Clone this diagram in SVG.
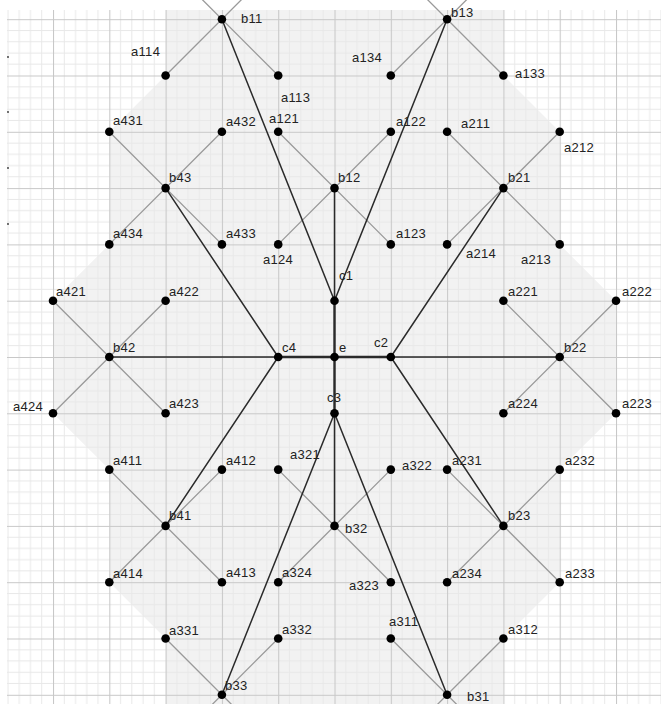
<svg xmlns="http://www.w3.org/2000/svg" width="661" height="704" viewBox="0 0 661 704">
<style>
.g{stroke:#9a9a9a;stroke-width:1.3;fill:none}
.k{stroke:#2a2a2a;stroke-width:1.5;fill:none}
.kk{stroke:#2a2a2a;stroke-width:2.4;fill:none}
.n circle{fill:#000}
text{font-family:"Liberation Sans",Arial,sans-serif;font-size:13px;fill:#222;letter-spacing:0.3px}
</style>
<defs>
<pattern id="grid" patternUnits="userSpaceOnUse" x="53" y="19.2" width="56.3" height="56.3">
<path d="M11.26 0V56.3M22.52 0V56.3M33.78 0V56.3M45.04 0V56.3M0 11.26H56.3M0 22.52H56.3M0 33.78H56.3M0 45.04H56.3" stroke="#e8e8e8" stroke-width="1"/>
<path d="M0.5 0V56.3M0 0.5H56.3" stroke="#c8c8c8" stroke-width="1.1"/>
</pattern>
</defs>
<rect width="661" height="704" fill="#fff"/>
<polygon points="165.6,10 165.6,75.5 109.3,131.8 109.3,244.4 53,300.7 53,413.3 109.3,469.6 109.3,582.2 165.6,638.5 165.6,704 503.4,704 503.4,638.5 559.7,582.2 559.7,469.6 616,413.3 616,300.7 559.7,244.4 559.7,131.8 503.4,75.5 503.4,10" fill="#f2f2f2"/>
<rect x="7" y="10" width="654" height="694" fill="url(#grid)"/>
<g fill="#333"><circle cx="8" cy="57" r="0.9"/><circle cx="8" cy="112" r="0.9"/><circle cx="8" cy="168" r="0.9"/><circle cx="8" cy="224" r="0.9"/></g>
<g id="connectors">
<g class="g">
<path d="M165.6,-37.1L278.2,75.5M278.2,-37.1L165.6,75.5"/>
<path d="M390.8,-37.1L503.4,75.5M503.4,-37.1L390.8,75.5"/>
<path d="M278.2,131.8L390.8,244.4M390.8,131.8L278.2,244.4"/>
<path d="M109.3,131.8L221.9,244.4M221.9,131.8L109.3,244.4"/>
<path d="M447.1,131.8L559.7,244.4M559.7,131.8L447.1,244.4"/>
<path d="M53,300.7L165.6,413.3M165.6,300.7L53,413.3"/>
<path d="M503.4,300.7L616,413.3M616,300.7L503.4,413.3"/>
<path d="M109.3,469.6L221.9,582.2M221.9,469.6L109.3,582.2"/>
<path d="M278.2,469.6L390.8,582.2M390.8,469.6L278.2,582.2"/>
<path d="M447.1,469.6L559.7,582.2M559.7,469.6L447.1,582.2"/>
<path d="M165.6,638.5L278.2,751.1M278.2,638.5L165.6,751.1"/>
<path d="M390.8,638.5L503.4,751.1M503.4,638.5L390.8,751.1"/>
</g>
<g class="k">
<path d="M334.5,300.7L221.9,19.2M334.5,300.7L447.1,19.2M334.5,300.7L334.5,188.1"/>
<path d="M390.8,357L503.4,188.1M390.8,357L559.7,357M390.8,357L503.4,525.9"/>
<path d="M334.5,413.3L334.5,525.9M334.5,413.3L221.9,694.8M334.5,413.3L447.1,694.8"/>
<path d="M278.2,357L165.6,188.1M278.2,357L109.3,357M278.2,357L165.6,525.9"/>
</g>
<path class="kk" d="M334.5,300.7V413.3M278.2,357H390.8"/>
</g>
<g id="nodes">
<g id="e" class="n"><circle cx="334.5" cy="357" r="4.3"/><text x="339" y="352">e</text></g>
<g id="c1" class="n"><circle cx="334.5" cy="300.7" r="4.3"/><text x="339" y="280">c1</text></g>
<g id="c2" class="n"><circle cx="390.8" cy="357" r="4.3"/><text x="374" y="347">c2</text></g>
<g id="c3" class="n"><circle cx="334.5" cy="413.3" r="4.3"/><text x="327" y="402">c3</text></g>
<g id="c4" class="n"><circle cx="278.2" cy="357" r="4.3"/><text x="282" y="352">c4</text></g>
<g id="b11" class="n"><circle cx="221.9" cy="19.2" r="4.3"/><text x="241" y="23">b11</text></g>
<g id="b12" class="n"><circle cx="334.5" cy="188.1" r="4.3"/><text x="338" y="182">b12</text></g>
<g id="b13" class="n"><circle cx="447.1" cy="19.2" r="4.3"/><text x="451" y="17">b13</text></g>
<g id="b21" class="n"><circle cx="503.4" cy="188.1" r="4.3"/><text x="508" y="182">b21</text></g>
<g id="b22" class="n"><circle cx="559.7" cy="357" r="4.3"/><text x="564" y="352">b22</text></g>
<g id="b23" class="n"><circle cx="503.4" cy="525.9" r="4.3"/><text x="508" y="520">b23</text></g>
<g id="b31" class="n"><circle cx="447.1" cy="694.8" r="4.3"/><text x="467" y="701">b31</text></g>
<g id="b32" class="n"><circle cx="334.5" cy="525.9" r="4.3"/><text x="345" y="533">b32</text></g>
<g id="b33" class="n"><circle cx="221.9" cy="694.8" r="4.3"/><text x="225" y="690">b33</text></g>
<g id="b41" class="n"><circle cx="165.6" cy="525.9" r="4.3"/><text x="169" y="520">b41</text></g>
<g id="b42" class="n"><circle cx="109.3" cy="357" r="4.3"/><text x="113" y="352">b42</text></g>
<g id="b43" class="n"><circle cx="165.6" cy="188.1" r="4.3"/><text x="169" y="182">b43</text></g>
<g id="a114" class="n"><circle cx="165.6" cy="75.5" r="4.3"/><text x="131" y="56">a114</text></g>
<g id="a113" class="n"><circle cx="278.2" cy="75.5" r="4.3"/><text x="281" y="102">a113</text></g>
<g id="a134" class="n"><circle cx="390.8" cy="75.5" r="4.3"/><text x="352" y="62">a134</text></g>
<g id="a133" class="n"><circle cx="503.4" cy="75.5" r="4.3"/><text x="515" y="78">a133</text></g>
<g id="a431" class="n"><circle cx="109.3" cy="131.8" r="4.3"/><text x="113" y="125">a431</text></g>
<g id="a432" class="n"><circle cx="221.9" cy="131.8" r="4.3"/><text x="226" y="126">a432</text></g>
<g id="a121" class="n"><circle cx="278.2" cy="131.8" r="4.3"/><text x="269" y="123">a121</text></g>
<g id="a122" class="n"><circle cx="390.8" cy="131.8" r="4.3"/><text x="396" y="126">a122</text></g>
<g id="a211" class="n"><circle cx="447.1" cy="131.8" r="4.3"/><text x="461" y="128">a211</text></g>
<g id="a212" class="n"><circle cx="559.7" cy="131.8" r="4.3"/><text x="564" y="152">a212</text></g>
<g id="a434" class="n"><circle cx="109.3" cy="244.4" r="4.3"/><text x="113" y="238">a434</text></g>
<g id="a433" class="n"><circle cx="221.9" cy="244.4" r="4.3"/><text x="226" y="238">a433</text></g>
<g id="a124" class="n"><circle cx="278.2" cy="244.4" r="4.3"/><text x="263" y="264">a124</text></g>
<g id="a123" class="n"><circle cx="390.8" cy="244.4" r="4.3"/><text x="396" y="238">a123</text></g>
<g id="a214" class="n"><circle cx="447.1" cy="244.4" r="4.3"/><text x="466" y="258">a214</text></g>
<g id="a213" class="n"><circle cx="559.7" cy="244.4" r="4.3"/><text x="521" y="264">a213</text></g>
<g id="a421" class="n"><circle cx="53" cy="300.7" r="4.3"/><text x="56" y="296">a421</text></g>
<g id="a422" class="n"><circle cx="165.6" cy="300.7" r="4.3"/><text x="169" y="296">a422</text></g>
<g id="a221" class="n"><circle cx="503.4" cy="300.7" r="4.3"/><text x="508" y="296">a221</text></g>
<g id="a222" class="n"><circle cx="616" cy="300.7" r="4.3"/><text x="622" y="296">a222</text></g>
<g id="a424" class="n"><circle cx="53" cy="413.3" r="4.3"/><text x="13" y="411">a424</text></g>
<g id="a423" class="n"><circle cx="165.6" cy="413.3" r="4.3"/><text x="169" y="408">a423</text></g>
<g id="a224" class="n"><circle cx="503.4" cy="413.3" r="4.3"/><text x="508" y="408">a224</text></g>
<g id="a223" class="n"><circle cx="616" cy="413.3" r="4.3"/><text x="622" y="408">a223</text></g>
<g id="a411" class="n"><circle cx="109.3" cy="469.6" r="4.3"/><text x="113" y="465">a411</text></g>
<g id="a412" class="n"><circle cx="221.9" cy="469.6" r="4.3"/><text x="226" y="465">a412</text></g>
<g id="a321" class="n"><circle cx="278.2" cy="469.6" r="4.3"/><text x="290" y="459">a321</text></g>
<g id="a322" class="n"><circle cx="390.8" cy="469.6" r="4.3"/><text x="402" y="470">a322</text></g>
<g id="a231" class="n"><circle cx="447.1" cy="469.6" r="4.3"/><text x="452" y="465">a231</text></g>
<g id="a232" class="n"><circle cx="559.7" cy="469.6" r="4.3"/><text x="565" y="465">a232</text></g>
<g id="a414" class="n"><circle cx="109.3" cy="582.2" r="4.3"/><text x="113" y="578">a414</text></g>
<g id="a413" class="n"><circle cx="221.9" cy="582.2" r="4.3"/><text x="226" y="577">a413</text></g>
<g id="a324" class="n"><circle cx="278.2" cy="582.2" r="4.3"/><text x="282" y="577">a324</text></g>
<g id="a323" class="n"><circle cx="390.8" cy="582.2" r="4.3"/><text x="349" y="590">a323</text></g>
<g id="a234" class="n"><circle cx="447.1" cy="582.2" r="4.3"/><text x="452" y="578">a234</text></g>
<g id="a233" class="n"><circle cx="559.7" cy="582.2" r="4.3"/><text x="565" y="578">a233</text></g>
<g id="a331" class="n"><circle cx="165.6" cy="638.5" r="4.3"/><text x="169" y="635">a331</text></g>
<g id="a332" class="n"><circle cx="278.2" cy="638.5" r="4.3"/><text x="282" y="634">a332</text></g>
<g id="a311" class="n"><circle cx="390.8" cy="638.5" r="4.3"/><text x="389" y="626">a311</text></g>
<g id="a312" class="n"><circle cx="503.4" cy="638.5" r="4.3"/><text x="508" y="634">a312</text></g>
</g>
</svg>
